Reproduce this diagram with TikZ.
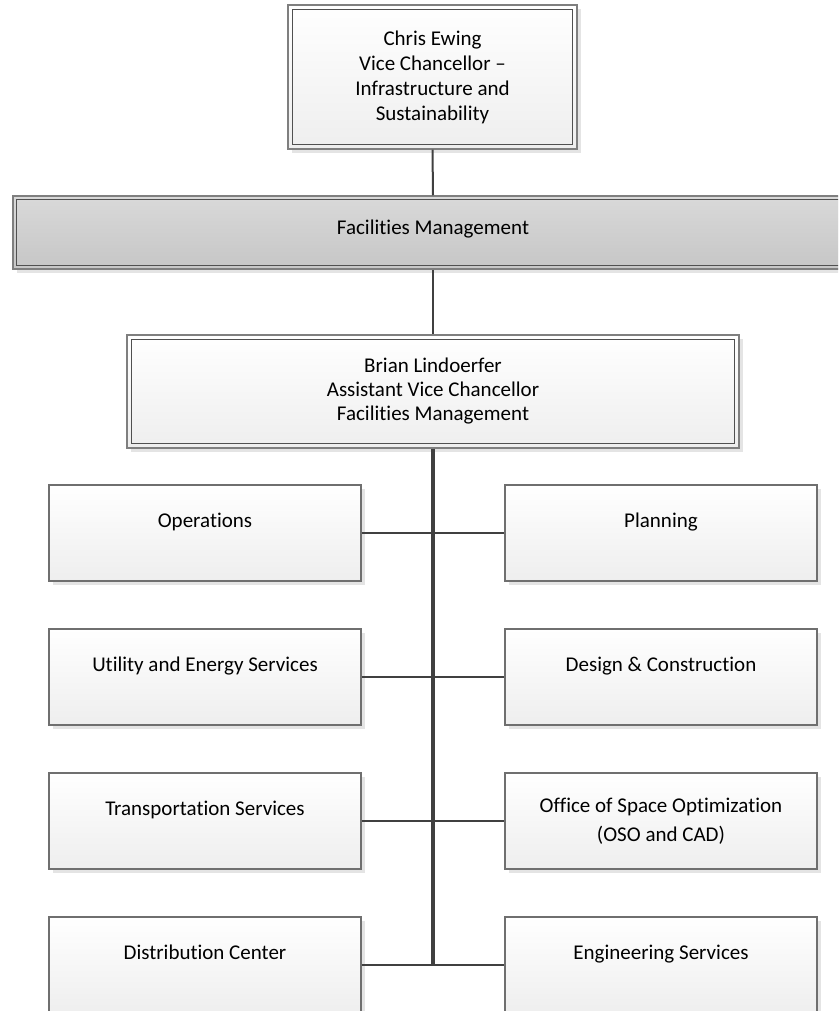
\documentclass[tikz,border=0pt]{standalone}
\usepackage{fontspec}
\setmainfont{Carlito}[Ligatures={NoCommon}]
\usetikzlibrary{shadows}
\definecolor{lineC}{HTML}{404040}
\definecolor{boxB}{HTML}{6F6F6F}
\definecolor{outerB}{HTML}{7F7F7F}
\definecolor{innerB}{HTML}{505050}
\definecolor{fillBot}{HTML}{EEEEEE}
\definecolor{bandTop}{HTML}{D9D9D9}
\definecolor{bandBot}{HTML}{C6C6C6}
\definecolor{shadowC}{HTML}{E4E4E4}
\tikzset{
  shade/.style={drop shadow={shadow xshift=4pt, shadow yshift=-4pt, fill=shadowC, opacity=1}},
  execbox/.style={rectangle, draw=outerB, line width=1.2pt, top color=white, bottom color=fillBot, shade, align=center, inner sep=0pt},
  bandbox/.style={rectangle, draw=outerB, line width=1.5pt, top color=bandTop, bottom color=bandBot, shade, align=center, inner sep=0pt},
  innerline/.style={draw=innerB, line width=1.2pt},
  unitbox/.style={rectangle, draw=boxB, line width=1.2pt, top color=white, bottom color=fillBot, shade, minimum width=312pt, minimum height=96pt, inner sep=0pt, align=center},
  oneline/.style={text height=15pt, text depth=27pt},
  link/.style={draw=lineC, line width=2pt},
  spine/.style={draw=lineC, line width=3.5pt},
}
\begin{document}
\begin{tikzpicture}[x=1pt, y=-1pt, font=\fontsize{21}{25}\selectfont]
\useasboundingbox (0,0) rectangle (838,1011);
\clip (0,0) rectangle (838,1011);

% executive boxes
\node[execbox, minimum width=289pt, minimum height=144pt] (chris) at (432.5,77)
  {Chris Ewing\\Vice Chancellor –\\Infrastructure and\\Sustainability};
\draw[innerline] ([xshift=5pt,yshift=-5pt]chris.north west) rectangle ([xshift=-5pt,yshift=5pt]chris.south east);

\node[bandbox, minimum width=840pt, minimum height=73pt, text height=15pt, text depth=12pt] (fm) at (433,232.5)
  {Facilities Management};
\draw[innerline] ([xshift=4pt,yshift=-4pt]fm.north west) rectangle ([xshift=-4pt,yshift=4pt]fm.south east);

\node[execbox, minimum width=612pt, minimum height=113pt, font=\fontsize{21}{24}\selectfont] (brian) at (433,391.5)
  {Brian Lindoerfer\\Assistant Vice Chancellor\\Facilities Management};
\draw[innerline] ([xshift=5pt,yshift=-5pt]brian.north west) rectangle ([xshift=-5pt,yshift=5pt]brian.south east);

% units
\node[unitbox, oneline] (ops)  at (205,533) {Operations};
\node[unitbox, oneline] (plan) at (661,533) {Planning};
\node[unitbox, oneline] (util) at (205,677) {Utility and Energy Services};
\node[unitbox, oneline] (dc)   at (661,677) {Design \& Construction};
\node[unitbox, oneline] (trans) at (205,821) {Transportation Services};
\node[unitbox, font=\fontsize{21}{29}\selectfont] (oso) at (661,821) {Office of Space Optimization\\(OSO and CAD)};
\node[unitbox, oneline] (dist) at (205,965) {Distribution Center};
\node[unitbox, oneline] (eng)  at (661,965) {Engineering Services};

% connectors
\draw[link] (chris.south) -- (fm.north);
\draw[link] (fm.south) -- (brian.north);
\coordinate (spineend) at (433,966);
\draw[spine] (brian.south) -- (spineend);
\draw[link] (ops.east) -- (plan.west);
\draw[link] (util.east) -- (dc.west);
\draw[link] (trans.east) -- (oso.west);
\draw[link] (dist.east) -- (eng.west);
\end{tikzpicture}
\end{document}
